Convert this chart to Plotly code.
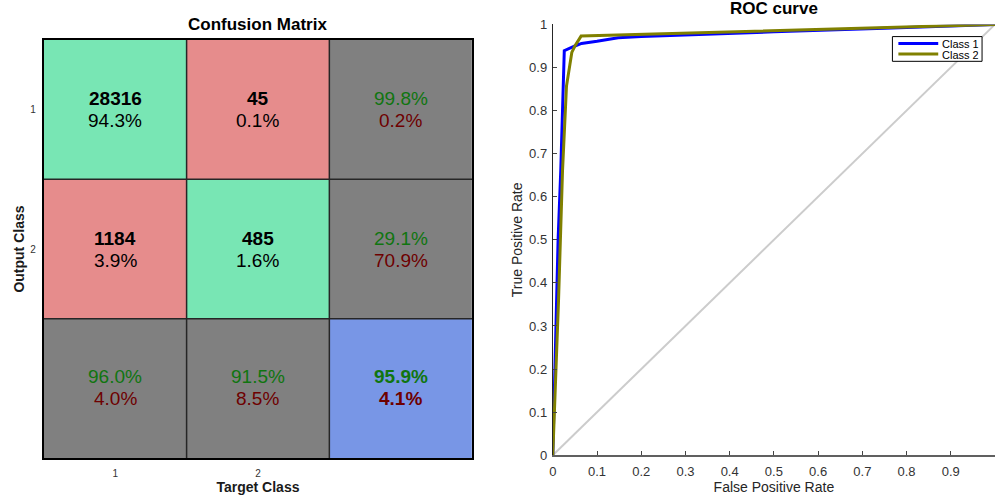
import plotly.graph_objects as go

# ---- confusion matrix data ----
class_labels = ["1", "2"]
counts = [[28316, 45],
          [1184, 485]]          # rows: output class, cols: target class

# ---- ROC curve data (FPR, TPR) ----
class1_fpr = [0.0, 0.005, 0.012, 0.018, 0.022, 0.026, 0.05, 0.065, 0.10, 0.148, 0.20, 0.30, 0.50, 0.75, 1.0]
class1_tpr = [0.0, 0.20, 0.50, 0.66, 0.80, 0.939, 0.950, 0.956, 0.961, 0.969, 0.972, 0.976, 0.983, 0.991, 1.0]
class2_fpr = [0.0, 0.013, 0.022, 0.031, 0.043, 0.050, 0.064, 0.30, 0.60, 1.0]
class2_tpr = [0.0, 0.36, 0.66, 0.857, 0.935, 0.950, 0.973, 0.980, 0.988, 1.0]
chance_fpr = [0.0, 1.0]
chance_tpr = [0.0, 1.0]
tick_values = [round(i * 0.1, 1) for i in range(11)]
series_names = ["Class 1", "Class 2"]
series_colors = ["#0000ff", "#808000"]

W, H = 995, 502
FONT = "Liberation Sans, Arial, Helvetica, sans-serif"

C_GREEN = "#78e6b4"
C_RED = "#e68c8c"
C_GRAY = "#808080"
C_BLUE = "#7896e6"
TXT_GREEN = "#107510"
TXT_RED = "#6e0000"

n = len(counts)
total = sum(sum(r) for r in counts)

# colour code of every cell of the (n+1)x(n+1) grid
z = []
for i in range(n + 1):
    row = []
    for j in range(n + 1):
        if i == n and j == n:
            row.append(3)
        elif i == n or j == n:
            row.append(2)
        elif i == j:
            row.append(0)
        else:
            row.append(1)
    z.append(row)

colorscale = [[0.0, C_GREEN], [0.25, C_GREEN], [0.25, C_RED], [0.5, C_RED],
              [0.5, C_GRAY], [0.75, C_GRAY], [0.75, C_BLUE], [1.0, C_BLUE]]

fig = go.Figure()

idx = list(range(1, n + 2))
fig.add_trace(go.Heatmap(
    z=z, x=idx, y=idx, zmin=0, zmax=3, colorscale=colorscale,
    showscale=False, hoverinfo="skip", xaxis="x", yaxis="y",
))

annotations = []


def cell_text(x, y, text, color, bold, shift):
    t = f"<b>{text}</b>" if bold else text
    annotations.append(dict(
        x=x, y=y, xref="x", yref="y", text=t, showarrow=False,
        yshift=shift, font=dict(family=FONT, size=19, color=color),
    ))


for i in range(n):
    for j in range(n):
        c = counts[i][j]
        cell_text(j + 1, i + 1, str(c), "black", True, 11)
        cell_text(j + 1, i + 1, f"{100 * c / total:.1f}%", "black", False, -11)

# row summaries (precision)
for i in range(n):
    rs = sum(counts[i])
    ok = 100 * counts[i][i] / rs
    cell_text(n + 1, i + 1, f"{ok:.1f}%", TXT_GREEN, False, 11)
    cell_text(n + 1, i + 1, f"{100 - ok:.1f}%", TXT_RED, False, -11)

# column summaries (recall)
for j in range(n):
    cs = sum(counts[i][j] for i in range(n))
    ok = 100 * counts[j][j] / cs
    cell_text(j + 1, n + 1, f"{ok:.1f}%", TXT_GREEN, False, 12)
    cell_text(j + 1, n + 1, f"{100 - ok:.1f}%", TXT_RED, False, -10)

acc = 100 * sum(counts[k][k] for k in range(n)) / total
cell_text(n + 1, n + 1, f"{acc:.1f}%", TXT_GREEN, True, 12)
cell_text(n + 1, n + 1, f"{100 - acc:.1f}%", TXT_RED, True, -10)

# cell separators
shapes = []
for k in range(1, n + 1):
    shapes.append(dict(type="line", xref="x", yref="y", x0=k + 0.5, x1=k + 0.5,
                       y0=0.5, y1=n + 1.5, line=dict(color="#262626", width=1.5)))
    shapes.append(dict(type="line", xref="x", yref="y", y0=k + 0.5, y1=k + 0.5,
                       x0=0.5, x1=n + 1.5, line=dict(color="#262626", width=1.5)))

# ---- ROC traces ----
fig.add_trace(go.Scatter(x=chance_fpr, y=chance_tpr, mode="lines",
                         line=dict(color="#cccccc", width=2), showlegend=False,
                         hoverinfo="skip", xaxis="x2", yaxis="y2"))
fig.add_trace(go.Scatter(x=class1_fpr, y=class1_tpr, mode="lines", name=series_names[0],
                         line=dict(color=series_colors[0], width=3), xaxis="x2", yaxis="y2"))
fig.add_trace(go.Scatter(x=class2_fpr, y=class2_tpr, mode="lines", name=series_names[1],
                         line=dict(color=series_colors[1], width=3), xaxis="x2", yaxis="y2"))

# compact boxed legend in the upper right of the ROC axes
lg_x0, lg_x1, lg_y0, lg_y1 = 892, 982, 30.5, 56
shapes.append(dict(type="rect", xref="paper", yref="paper",
                   x0=lg_x0 / W, x1=lg_x1 / W, y0=1 - lg_y1 / H, y1=1 - lg_y0 / H,
                   fillcolor="white", line=dict(color="black", width=1)))
for k, (nm, col) in enumerate(zip(series_names, series_colors)):
    yy = 1 - (37.5 + 11 * k) / H
    shapes.append(dict(type="line", xref="paper", yref="paper",
                       x0=898 / W, x1=938 / W, y0=yy, y1=yy,
                       line=dict(color=col, width=3)))
    annotations.append(dict(x=940 / W, y=yy, xref="paper", yref="paper",
                            text=nm, showarrow=False, xanchor="left", yanchor="middle",
                            height=11,
                            font=dict(family=FONT, size=11, color="black")))

# titles
annotations.append(dict(x=255 / W, y=1 - 18 / H, xref="paper", yref="paper",
                        text="<b>Confusion Matrix</b>", showarrow=False,
                        xanchor="center", yanchor="middle",
                        font=dict(family=FONT, size=17, color="black")))
annotations.append(dict(x=773 / W, y=1 - 13 / H, xref="paper", yref="paper",
                        text="<b>ROC curve</b>", showarrow=False,
                        xanchor="center", yanchor="bottom",
                        font=dict(family=FONT, size=17, color="black")))

cm_x0, cm_x1, cm_y0, cm_y1 = 40, 470, 34, 465
roc_x0, roc_x1, roc_y0, roc_y1 = 551, 995, 18, 462

fig.update_layout(
    width=W, height=H,
    margin=dict(l=0, r=0, t=0, b=0),
    paper_bgcolor="white", plot_bgcolor="white",
    font=dict(family=FONT, color="#262626"),
    showlegend=False,
    xaxis=dict(domain=[cm_x0 / W, cm_x1 / W], range=[0.5, n + 1.5],
               tickvals=list(range(1, n + 1)), ticktext=class_labels,
               tickfont=dict(size=10, color="#333333"), ticks="",
               ticklabelstandoff=5,
               showline=True, mirror=True, linecolor="black", linewidth=2,
               showgrid=False, zeroline=False, fixedrange=True,
               title=dict(text="<b>Target Class</b>", standoff=1,
                          font=dict(size=14, color="#1a1a1a"))),
    yaxis=dict(domain=[1 - cm_y1 / H, 1 - cm_y0 / H], range=[n + 1.5, 0.5],
               tickvals=list(range(1, n + 1)), ticktext=class_labels,
               tickfont=dict(size=10, color="#333333"), ticks="",
               ticklabelstandoff=4,
               showline=True, mirror=True, linecolor="black", linewidth=2,
               showgrid=False, zeroline=False, fixedrange=True,
               title=dict(text="<b>Output Class</b>", standoff=2,
                          font=dict(size=14, color="#1a1a1a"))),
    xaxis2=dict(domain=[roc_x0 / W, roc_x1 / W], range=[0, 1], anchor="y2",
                tickvals=tick_values, ticks="inside", ticklen=4, tickcolor="#444444",
                tickfont=dict(size=13, color="#333333"), ticklabelstandoff=3,
                showline=True, linecolor="#606060", linewidth=2,
                showgrid=False, zeroline=False,
                title=dict(text="False Positive Rate", standoff=0,
                           font=dict(size=14, color="#262626"))),
    yaxis2=dict(domain=[1 - roc_y1 / H, 1 - roc_y0 / H], range=[0, 1], anchor="x2",
                tickvals=tick_values, ticks="inside", ticklen=4, tickcolor="#444444",
                tickfont=dict(size=13, color="#333333"), ticklabelstandoff=2,
                showline=True, linecolor="#262626", linewidth=1,
                showgrid=False, zeroline=False,
                title=dict(text="True Positive Rate", standoff=3,
                           font=dict(size=14, color="#262626"))),
    annotations=annotations,
    shapes=shapes,
)

fig.write_html("out.html")
